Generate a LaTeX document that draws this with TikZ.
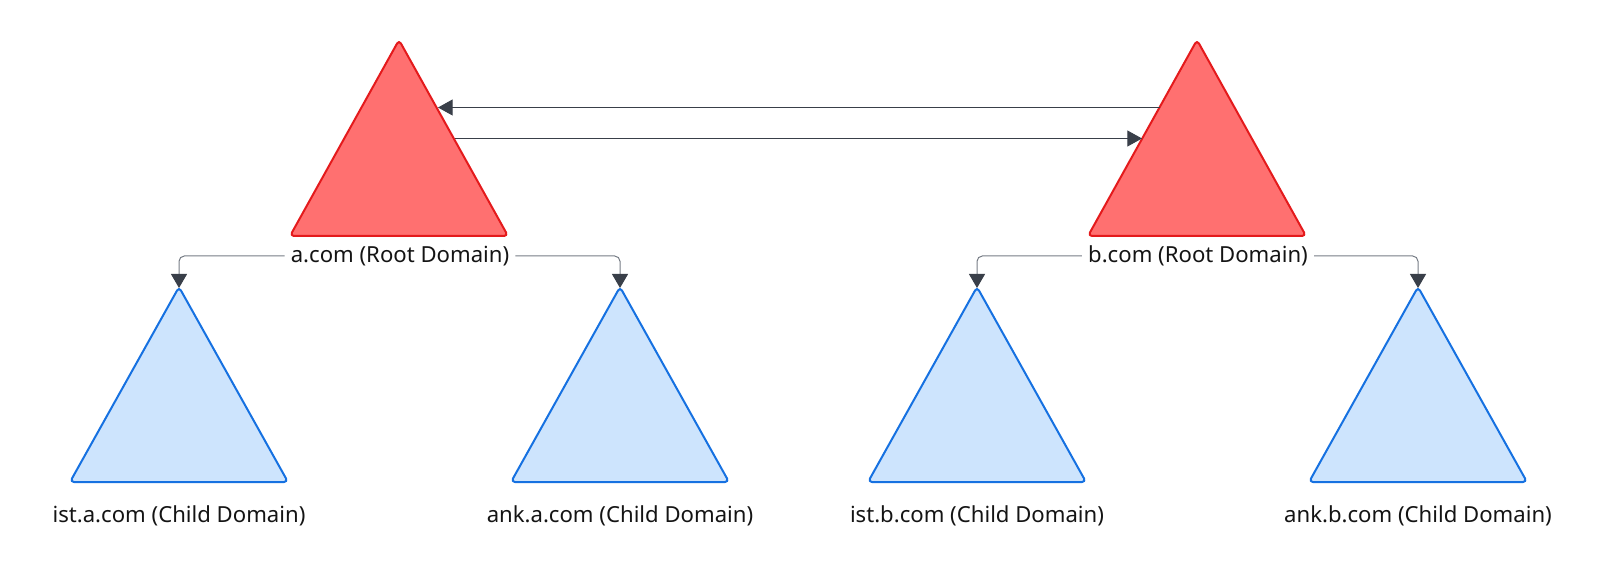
\documentclass[tikz,border=0pt]{standalone}
\usepackage{fontspec}
\setmainfont{Noto Sans}
\usepackage{tikz}
\usetikzlibrary{arrows.meta}
\usepackage{xcolor}

\definecolor{rootStroke}{RGB}{228,26,28}
\definecolor{rootFill}{RGB}{255,112,112}
\definecolor{childStroke}{RGB}{22,113,225}
\definecolor{childFill}{RGB}{205,228,253}
\definecolor{arrowDark}{RGB}{57,63,73}
\definecolor{arrowGrey}{RGB}{118,124,133}

\tikzset{
  roottri/.style={draw=rootStroke, fill=rootFill, line width=1.5pt, rounded corners=3pt, line join=round},
  childtri/.style={draw=childStroke, fill=childFill, line width=1.5pt, rounded corners=3pt, line join=round},
  domlabel/.style={inner sep=4.5pt, font=\fontsize{16.6}{19}\selectfont, text=black!92},
  trustarrow/.style={draw=arrowDark, line width=0.75pt, -{Triangle[length=11pt,width=12pt]}},
  childlink/.style={draw=arrowGrey, line width=0.75pt, rounded corners=4pt, -{Triangle[length=10.5pt,width=12pt,color=arrowDark]}}
}

\begin{document}
\begin{tikzpicture}[x=0.75pt,y=0.75pt,yscale=-1,xscale=1]
\useasboundingbox (0,0) rectangle (1601,573);

%Shape: Triangle [id:rootA] 
\draw [roottri] (399,40) -- (508,236) -- (290,236) -- cycle ;
%Shape: Triangle [id:rootB] 
\draw [roottri] (1197,40) -- (1306,236) -- (1088,236) -- cycle ;
%Shape: Triangle [id:istA] 
\draw [childtri] (179,287) -- (288,482) -- (70,482) -- cycle ;
%Shape: Triangle [id:ankA] 
\draw [childtri] (620,287) -- (729,482) -- (511,482) -- cycle ;
%Shape: Triangle [id:istB] 
\draw [childtri] (977,287) -- (1086,482) -- (868,482) -- cycle ;
%Shape: Triangle [id:ankB] 
\draw [childtri] (1418,287) -- (1527,482) -- (1309,482) -- cycle ;

% Apex and edge points
\coordinate (istAtop) at (179,288) ;
\coordinate (ankAtop) at (620,288) ;
\coordinate (istBtop) at (977,288) ;
\coordinate (ankBtop) at (1418,288) ;
\coordinate (aUpper) at (438,107.5) ;
\coordinate (bUpper) at (1160,107.5) ;
\coordinate (aLower) at (455,138.5) ;
\coordinate (bLower) at (1142,138.5) ;

% Text Node
\node [domlabel] (aRoot) at (400,256) {a.com (Root Domain)};
% Text Node
\node [domlabel] (bRoot) at (1198,256) {b.com (Root Domain)};
% Text Node
\node [domlabel] (istAlab) at (179,516) {ist.a.com (Child Domain)};
% Text Node
\node [domlabel] (ankAlab) at (620,516) {ank.a.com (Child Domain)};
% Text Node
\node [domlabel] (istBlab) at (977,516) {ist.b.com (Child Domain)};
% Text Node
\node [domlabel] (ankBlab) at (1418,516) {ank.b.com (Child Domain)};

%Straight Lines [id:trustBA] 
\draw [trustarrow] (bUpper) -- (aUpper) ;
%Straight Lines [id:trustAB] 
\draw [trustarrow] (aLower) -- (bLower) ;

%Connectors to child domains
\draw [childlink] (aRoot.west) -| (istAtop) ;
\draw [childlink] (aRoot.east) -| (ankAtop) ;
\draw [childlink] (bRoot.west) -| (istBtop) ;
\draw [childlink] (bRoot.east) -| (ankBtop) ;

\end{tikzpicture}
\end{document}
